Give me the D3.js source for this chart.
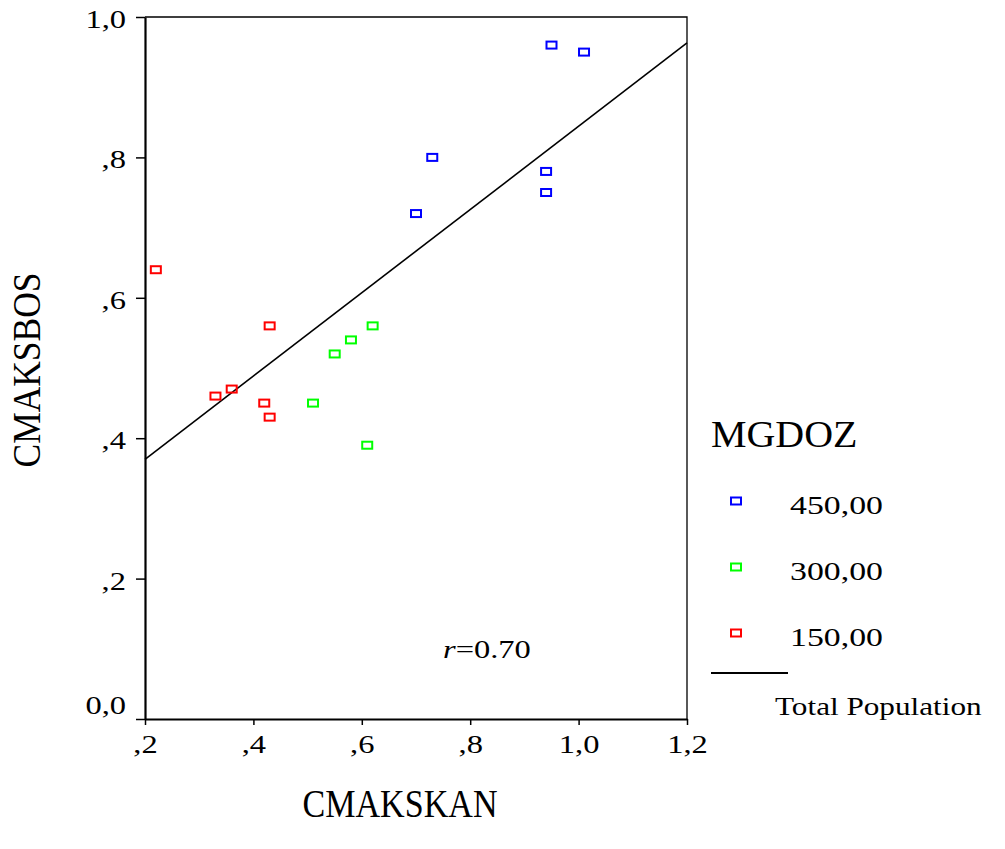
<!DOCTYPE html>
<html>
<head>
<meta charset="utf-8">
<script src="https://cdn.jsdelivr.net/npm/d3@7"></script>
<style>
  body { margin: 0; background: #fff; }
  text { font-family: "Liberation Serif", "Times New Roman", serif; fill: #000; }
</style>
</head>
<body>
<div id="chart"></div>
<script>
// data
var groups = ["450,00", "300,00", "150,00"];
var groupColors = ["#0000ff", "#00ff00", "#ff0000"];

var cmakskan450 = [0.95, 1.01, 0.73, 0.70, 0.94, 0.94];
var cmaksbos450 = [0.96, 0.95, 0.80, 0.72, 0.78, 0.75];
var cmakskan300 = [0.62, 0.58, 0.55, 0.51, 0.61];
var cmaksbos300 = [0.56, 0.54, 0.52, 0.45, 0.39];
var cmakskan150 = [0.22, 0.43, 0.33, 0.36, 0.42, 0.43];
var cmaksbos150 = [0.64, 0.56, 0.46, 0.47, 0.45, 0.43];

// total population fit line (end points)
var fitX = [0.2, 1.2];
var fitY = [0.370, 0.963];

var xTicks = [0.2, 0.4, 0.6, 0.8, 1.0, 1.2];
var xTickLabels = [",2", ",4", ",6", ",8", "1,0", "1,2"];
var yTicks = [0, 0.2, 0.4, 0.6, 0.8, 1.0];
var yTickLabels = ["0,0", ",2", ",4", ",6", ",8", "1,0"];

var points = [];
[[cmakskan450, cmaksbos450], [cmakskan300, cmaksbos300], [cmakskan150, cmaksbos150]].forEach(function (s, gi) {
    s[0].forEach(function (v, i) { points.push({ x: v, y: s[1][i], g: gi }); });
});

var W = 1005, H = 849;
var plotLeft = 145, plotRight = 687, plotTop = 17, plotBottom = 719;

var svg = d3.select("#chart").append("svg")
    .attr("width", W).attr("height", H);

var x = d3.scaleLinear().domain([0.2, 1.2]).range([plotLeft, plotRight]);
var y = d3.scaleLinear().domain([0, 1]).range([plotBottom, plotTop]);

// frame top + right (thin)
svg.append("path")
    .attr("d", "M" + plotLeft + "," + plotTop + "H" + plotRight + "V" + plotBottom)
    .attr("fill", "none").attr("stroke", "#000").attr("stroke-width", 1.3);

// y axis
var yAxis = svg.append("g")
    .attr("transform", "translate(" + plotLeft + ",0)")
    .call(d3.axisLeft(y).tickValues(yTicks).tickSize(9).tickSizeOuter(0)
        .tickFormat(function (d, i) { return yTickLabels[i]; }));
yAxis.select(".domain").attr("stroke-width", 2.2);
yAxis.selectAll(".tick line").attr("stroke-width", 1.5);
yAxis.selectAll(".tick text")
    .attr("font-family", "Liberation Serif").attr("font-size", 26)
    .attr("x", -19 / 1.25).attr("dy", function (d) { return d === 0 ? "-0.2em" : "0.4em"; })
    .attr("transform", "scale(1.25,1)");

// x axis
var xAxis = svg.append("g")
    .attr("transform", "translate(0," + plotBottom + ")")
    .call(d3.axisBottom(x).tickValues(xTicks).tickSize(6).tickSizeOuter(0)
        .tickFormat(function (d, i) { return xTickLabels[i]; }));
xAxis.select(".domain").attr("stroke-width", 2.2);
xAxis.selectAll(".tick line").attr("stroke-width", 1.5);
xAxis.selectAll(".tick text")
    .attr("font-family", "Liberation Serif").attr("font-size", 26)
    .attr("y", 34).attr("dy", 0)
    .attr("transform", "scale(1.25,1)");

// fit line
svg.append("line")
    .attr("x1", x(fitX[0])).attr("y1", y(fitY[0]))
    .attr("x2", x(fitX[1])).attr("y2", y(fitY[1]))
    .attr("stroke", "#000").attr("stroke-width", 1.6);

// points
var mw = 10, mh = 7;
svg.append("g").selectAll("rect")
    .data(points).enter().append("rect")
    .attr("x", function (d) { return x(d.x) - mw / 2; })
    .attr("y", function (d) { return y(d.y) - mh / 2; })
    .attr("width", mw).attr("height", mh)
    .attr("fill", "none")
    .attr("stroke", function (d) { return groupColors[d.g]; })
    .attr("stroke-width", 2);

// r annotation
var rt = svg.append("text")
    .attr("transform", "translate(443,658) scale(1.25,1)")
    .attr("font-size", 26);
rt.append("tspan").attr("font-style", "italic").text("r");
rt.append("tspan").text("=0.70");

// axis titles
svg.append("text")
    .attr("x", 400).attr("y", 817)
    .attr("text-anchor", "middle")
    .attr("font-size", 40)
    .attr("textLength", 195).attr("lengthAdjust", "spacingAndGlyphs")
    .text("CMAKSKAN");

svg.append("text")
    .attr("transform", "translate(40,370) rotate(-90)")
    .attr("text-anchor", "middle")
    .attr("font-size", 40)
    .attr("textLength", 195).attr("lengthAdjust", "spacingAndGlyphs")
    .text("CMAKSBOS");

// legend
svg.append("text")
    .attr("transform", "translate(711,447) scale(1.08,1)")
    .attr("font-size", 37)
    .text("MGDOZ");

var leg = svg.append("g").selectAll("g")
    .data(groups).enter().append("g")
    .attr("transform", function (d, i) { return "translate(0," + (501 + i * 66) + ")"; });
leg.append("rect")
    .attr("x", 736 - mw / 2).attr("y", -mh / 2)
    .attr("width", mw).attr("height", mh)
    .attr("fill", "none")
    .attr("stroke", function (d, i) { return groupColors[i]; })
    .attr("stroke-width", 2);
leg.append("text")
    .attr("transform", "translate(790,13) scale(1.3,1)")
    .attr("font-size", 26)
    .text(function (d) { return d; });

svg.append("line")
    .attr("x1", 711).attr("x2", 788).attr("y1", 673).attr("y2", 673)
    .attr("stroke", "#000").attr("stroke-width", 2);
svg.append("text")
    .attr("transform", "translate(775,715) scale(1.2,1)")
    .attr("font-size", 26)
    .text("Total Population");
</script>
</body>
</html>
